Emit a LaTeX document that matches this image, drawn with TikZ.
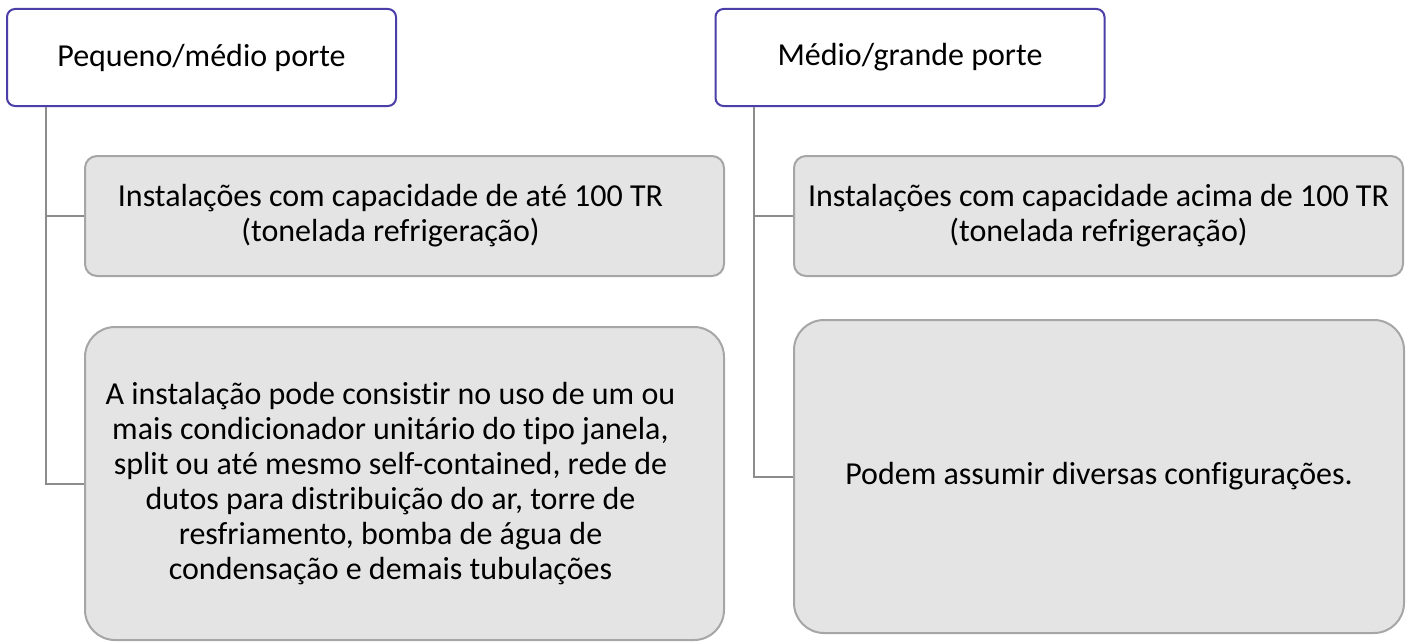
\documentclass[tikz,border=0pt]{standalone}
\usepackage{fontspec}
\setmainfont{Carlito}[Ligatures=NoCommon]
\usepackage{xcolor}
\usetikzlibrary{positioning}

\definecolor{headline}{HTML}{4B3EA8}
\definecolor{boxline}{HTML}{A6A6A6}
\definecolor{boxfill}{HTML}{E4E4E4}
\definecolor{linkgray}{HTML}{8C8C8C}

\begin{document}
\begin{tikzpicture}[
    x=1pt, y=-1pt,
    every node/.style={font=\fontsize{32}{35}\selectfont, align=center,
                       inner sep=0pt},
    headbox/.style={draw=headline, line width=2pt, fill=white,
                    rounded corners=8pt, minimum width=389pt, minimum height=97pt},
    itembox/.style={draw=boxline, line width=2pt, fill=boxfill,
                    rounded corners=12pt, minimum height=120pt},
    bigbox/.style={itembox, rounded corners=30pt, minimum height=313pt},
    lefttext/.style={xshift=-14pt},
    linkedge/.style={draw=linkgray, line width=2pt}
  ]
  \useasboundingbox (0,0) rectangle (1411,642);

  % left column
  \node[headbox] (hsmall) at (201.5,57.5) {Pequeno/médio porte};
  \node[itembox, minimum width=639pt,
        label={[lefttext]center:{Instalações com capacidade de até 100 TR\\
                                 (tonelada refrigeração)}}]
    (bsmall) at (404.5,216) {};
  \node[bigbox, minimum width=639pt,
        label={[lefttext]center:{A instalação pode consistir no uso de um ou\\
                                 mais condicionador unitário do tipo janela,\\
                                 split ou até mesmo self-contained, rede de\\
                                 dutos para distribuição do ar, torre de\\
                                 resfriamento, bomba de água de\\
                                 condensação e demais tubulações}}]
    (bsmallcfg) at (404.5,483.5) {};

  % right column
  \node[headbox] (hbig) at (910,57.5) {Médio/grande porte};
  \node[itembox, minimum width=609pt] (bbig) at (1098.5,216)
    {Instalações com capacidade acima de 100 TR\\(tonelada refrigeração)};
  \node[bigbox, minimum width=610pt] (bbigcfg) at (1099,476.5)
    {Podem assumir diversas configurações.};

  % connectors
  \coordinate (lsmall) at (46,107);
  \coordinate (lbig) at (754,107);
  \draw[linkedge] (lsmall) |- (bsmall.west);
  \draw[linkedge] (lsmall) |- (bsmallcfg.west);
  \draw[linkedge] (lbig) |- (bbig.west);
  \draw[linkedge] (lbig) |- (bbigcfg.west);
\end{tikzpicture}
\end{document}
